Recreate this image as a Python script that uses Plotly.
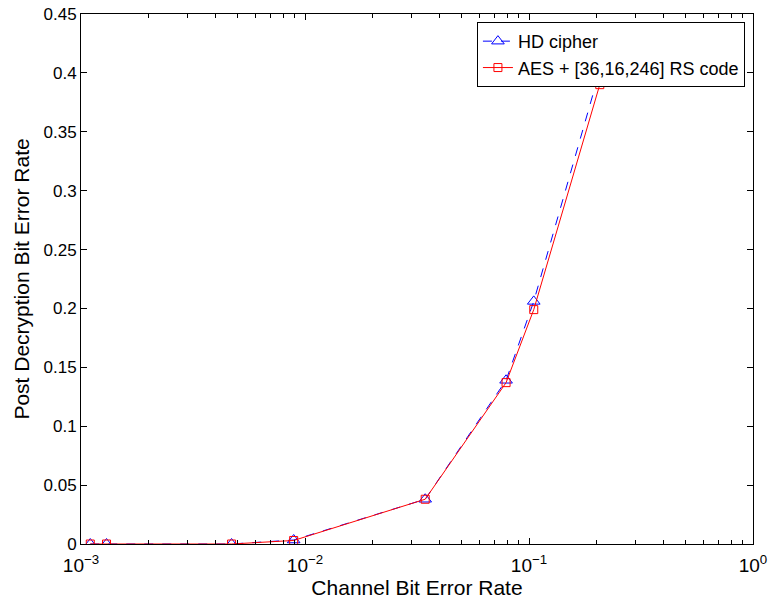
import plotly.graph_objects as go

channel_ber = [0.0011, 0.0013, 0.0047, 0.0089, 0.0344, 0.079, 0.105, 0.207]
hd_cipher = [0.0, 0.0, 0.0, 0.0034, 0.038, 0.139, 0.206, 0.402]
aes_rs = [0.0, 0.0, 0.0, 0.003, 0.038, 0.137, 0.199, 0.390]

x_tickvals = [0.001, 0.01, 0.1, 1]
x_ticktext = ["10<sup>−3</sup>", "10<sup>−2</sup>", "10<sup>−1</sup>", "10<sup>0</sup>"]
x_minorvals = [m * d for d in [0.001, 0.01, 0.1] for m in range(2, 10)]
y_tickvals = [0, 0.05, 0.1, 0.15, 0.2, 0.25, 0.3, 0.35, 0.4, 0.45]
y_ticktext = ["0", "0.05", "0.1", "0.15", "0.2", "0.25", "0.3", "0.35", "0.4", "0.45"]

fig = go.Figure()
fig.add_trace(go.Scatter(
    x=channel_ber, y=hd_cipher, name="HD cipher", mode="lines+markers",
    line=dict(color="#0000ff", width=1, dash="dash"),
    marker=dict(symbol="triangle-up-open", size=11, color="#0000ff", line=dict(width=1)),
))
fig.add_trace(go.Scatter(
    x=channel_ber, y=aes_rs, name="AES + [36,16,246] RS code", mode="lines+markers",
    line=dict(color="#ff0000", width=1),
    marker=dict(symbol="square-open", size=8, color="#ff0000", line=dict(width=1)),
))

font = "Liberation Sans, Arial, sans-serif"
fig.update_layout(
    width=770, height=599,
    margin=dict(l=81, r=17, t=14, b=55),
    paper_bgcolor="white", plot_bgcolor="white",
    font=dict(family=font, size=17, color="black"),
    showlegend=True,
    legend=dict(x=0.988, y=0.985, xanchor="right", yanchor="top",
                bordercolor="black", borderwidth=1, bgcolor="white",
                font=dict(size=18), tracegroupgap=0),
    xaxis=dict(
        type="log", range=[-3, 0], tickvals=x_tickvals, ticktext=x_ticktext,
        ticks="inside", ticklen=6, tickcolor="black", showgrid=False, zeroline=False,
        showline=True, linecolor="black", linewidth=1, mirror="allticks",
        minor=dict(tickvals=x_minorvals, ticks="inside", ticklen=4, tickcolor="black", showgrid=False),
        title=dict(text="Channel Bit Error Rate", font=dict(size=21), standoff=0),
        tickfont=dict(size=19), automargin=False, ticklabeloverflow="allow",
        ticklabelstandoff=4,
    ),
    yaxis=dict(
        range=[0, 0.45], tickvals=y_tickvals, ticktext=y_ticktext,
        ticks="inside", ticklen=6, tickcolor="black", showgrid=False, zeroline=False,
        showline=True, linecolor="black", linewidth=1, mirror="allticks",
        title=dict(text="Post Decryption Bit Error Rate", font=dict(size=21), standoff=8),
        tickfont=dict(size=17), automargin=False, ticklabeloverflow="allow",
    ),
)

fig.write_html("out.html", config={"displayModeBar": False},
               post_script="document.body.style.margin='0';")
